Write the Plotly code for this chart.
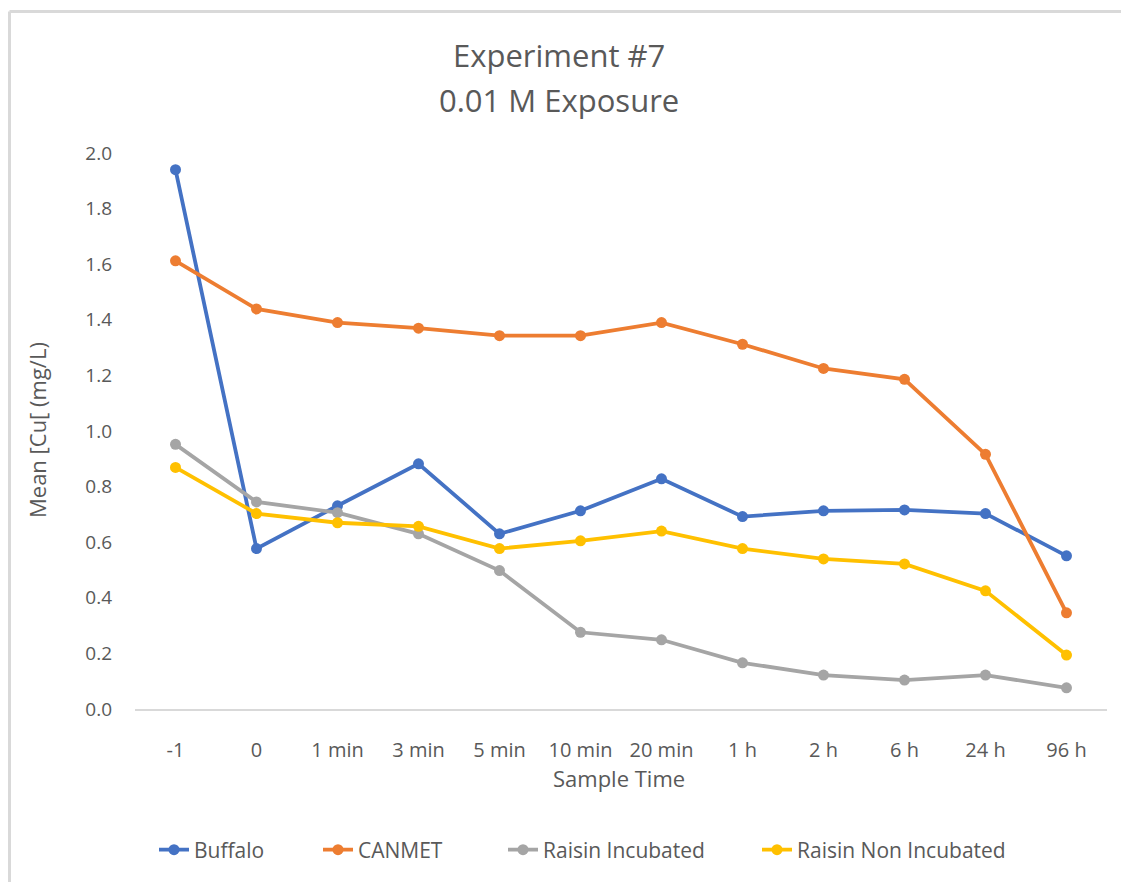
import plotly.graph_objects as go

categories = ["-1", "0", "1 min", "3 min", "5 min", "10 min", "20 min", "1 h", "2 h", "6 h", "24 h", "96 h"]
buffalo = [1.94, 0.577, 0.731, 0.882, 0.630, 0.713, 0.828, 0.692, 0.713, 0.716, 0.703, 0.551]
canmet = [1.612, 1.439, 1.390, 1.370, 1.343, 1.343, 1.390, 1.312, 1.225, 1.186, 0.916, 0.346]
raisin_inc = [0.952, 0.745, 0.706, 0.630, 0.498, 0.276, 0.249, 0.166, 0.122, 0.104, 0.122, 0.076]
raisin_non = [0.869, 0.703, 0.670, 0.657, 0.577, 0.605, 0.640, 0.577, 0.540, 0.522, 0.425, 0.194]

series = [
    ("Buffalo", buffalo, "#4472C4"),
    ("CANMET", canmet, "#ED7D31"),
    ("Raisin Incubated", raisin_inc, "#A5A5A5"),
    ("Raisin Non Incubated", raisin_non, "#FFC000"),
]
legend_starts = [159, 323, 508, 762]

FONT = "Open Sans"
TXT = "#595959"

W, H = 1121, 882
L, R, T, B = 135, 14, 153, 173
pw, ph = W - L - R, H - T - B

def px(x):
    return (x - L) / pw

def py(y):
    return (H - B - y) / ph

fig = go.Figure()
legend_layouts = {}
for i, (name, vals, col) in enumerate(series):
    lname = "legend" if i == 0 else f"legend{i + 1}"
    fig.add_trace(go.Scatter(
        x=categories, y=vals, name=name, mode="lines+markers",
        line=dict(color=col, width=3.8),
        marker=dict(color=col, size=11),
        legend=lname,
    ))
    legend_layouts[lname] = dict(
        orientation="h", x=px(legend_starts[i] - 5), xanchor="left", y=py(850), yanchor="middle",
        font=dict(size=21, color=TXT), bgcolor="rgba(0,0,0,0)",
    )

fig.update_layout(
    width=W, height=H,
    margin=dict(l=L, r=R, t=T, b=B),
    paper_bgcolor="white", plot_bgcolor="white",
    font=dict(family=FONT, color=TXT, size=18),
    showlegend=True,
    xaxis=dict(type="category", range=[-0.5, 11.5], showgrid=False, showline=True,
               linecolor="#D9D9D9", linewidth=1.5,
               ticks="", tickfont=dict(size=20, color=TXT), ticklabelstandoff=22,
               zeroline=False),
    yaxis=dict(range=[0, 2], dtick=0.2, tickformat=".1f", showgrid=False, showline=False,
               zeroline=False, ticks="", tickfont=dict(size=19, color=TXT), ticklabelstandoff=22),
    annotations=[
        dict(text="Experiment #7", xref="paper", yref="paper", x=px(559), y=py(55),
             xanchor="center", yanchor="middle", showarrow=False, font=dict(size=31, color=TXT)),
        dict(text="0.01 M Exposure", xref="paper", yref="paper", x=px(559), y=py(100),
             xanchor="center", yanchor="middle", showarrow=False, font=dict(size=31, color=TXT)),
        dict(text="Sample Time", xref="paper", yref="paper", x=px(619), y=py(778),
             xanchor="center", yanchor="middle", showarrow=False, font=dict(size=22, color=TXT)),
        dict(text="Mean [Cu[ (mg/L)", xref="paper", yref="paper", x=px(37), y=py(430),
             xanchor="center", yanchor="middle", textangle=-90, showarrow=False,
             font=dict(size=22, color=TXT)),
    ],
    shapes=[
        dict(type="line", xref="paper", yref="paper", x0=px(9.5), x1=px(1125), y0=py(11.5), y1=py(11.5),
             line=dict(color="#D9D9D9", width=3)),
        dict(type="line", xref="paper", yref="paper", x0=px(9.5), x1=px(9.5), y0=py(11.5), y1=py(890),
             line=dict(color="#D9D9D9", width=3)),
    ],
    **legend_layouts,
)

fig.write_html("out.html")
